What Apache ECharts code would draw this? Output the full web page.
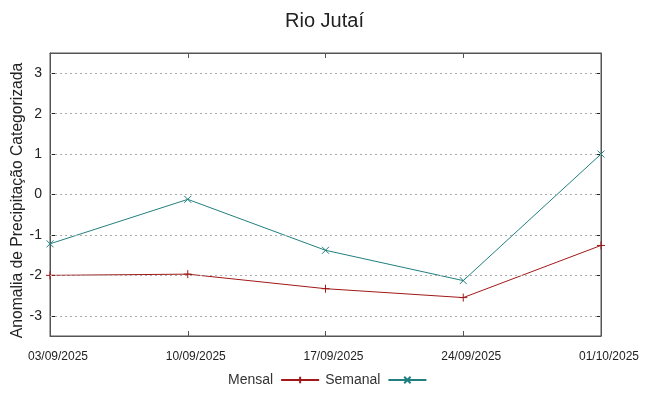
<!DOCTYPE html>
<html><head><meta charset="utf-8">
<script src="https://cdn.jsdelivr.net/npm/echarts@6/dist/echarts.min.js"></script>
<style>html,body{margin:0;padding:0;background:#fff}#c{width:649px;height:396px}</style>
</head><body><div id="c"></div>
<script>
const categories = ['03/09/2025','10/09/2025','17/09/2025','24/09/2025','01/10/2025'];
const mensal = [-2.0, -1.97, -2.33, -2.55, -1.26];
const semanal = [-1.22, -0.12, -1.38, -2.13, 1.0];
const yTicks = [-3,-2,-1,0,1,2,3];

const plus = 'path://M0,-5L0,5M-5,0L5,0';
const cross = 'path://M-4,-4L4,4M-4,4L4,-4';
const cMensal = '#a01818';
const cSemanal = '#217f7f';

const chart = echarts.init(document.getElementById('c'));
chart.setOption({
  animation:false,
  title:{text:'Rio Jutaí',left:'center',top:6,textStyle:{fontFamily:'Liberation Sans',fontSize:20,fontWeight:'normal',color:'#222'}},
  grid:{left:50,right:48,top:53,bottom:60,show:true,borderColor:'#555',borderWidth:1,outerBoundsMode:'none',containLabel:false},
  legend:{bottom:4,left:228,align:'right',itemWidth:38,itemGap:5,itemHeight:8,padding:[5,0,5,0],
    textStyle:{fontFamily:'Liberation Sans',fontSize:14,color:'#333',padding:[0,3,0,0]},
    data:['Mensal','Semanal']},
  xAxis:[{type:'category',data:categories,boundaryGap:false,
    axisLine:{onZero:false,lineStyle:{color:'#555'}},
    axisTick:{inside:true,length:5,lineStyle:{color:'#555'}},
    axisLabel:{fontFamily:'Liberation Sans Narrow, Liberation Sans',fontSize:12,color:'#222',margin:15,padding:[0,0,0,16]},
    splitLine:{show:false}},
   {type:'category',data:categories,boundaryGap:false,position:'top',
    axisLine:{onZero:false,lineStyle:{color:'#555'}},
    axisTick:{inside:true,length:5,lineStyle:{color:'#555'}},
    axisLabel:{show:false},splitLine:{show:false}}],
  yAxis:[{type:'value',min:-3.5,max:3.5,
    name:'Anomalia de Precipitação Categorizada',nameLocation:'middle',nameGap:24,nameRotate:90,
    nameMoveOverlap:false,
    nameTextStyle:{fontFamily:'Liberation Sans',fontSize:15.7,color:'#222',padding:[0,12,0,0]},
    axisLine:{show:true,onZero:false,lineStyle:{color:'#555'}},
    axisTick:{show:true,inside:true,length:5,customValues:yTicks,lineStyle:{color:'#222'}},
    axisLabel:{fontFamily:'Liberation Sans',fontSize:14,color:'#222',margin:8,customValues:yTicks},
    splitLine:{show:false}},
   {type:'value',min:-3.5,max:3.5,position:'right',
    axisLine:{show:true,onZero:false,lineStyle:{color:'#555'}},
    axisTick:{show:true,inside:true,length:5,customValues:yTicks,lineStyle:{color:'#222'}},
    axisLabel:{show:false},splitLine:{show:false}}],
  series:[
    {name:'Mensal',type:'line',data:mensal,symbol:plus,symbolSize:8,
      lineStyle:{color:cMensal,width:1},
      itemStyle:{color:'none',borderColor:cMensal,borderWidth:1},
      markLine:{silent:true,symbol:'none',label:{show:false},
        lineStyle:{color:'#aaa',type:[2,3],width:1},
        data:yTicks.map(v=>({yAxis:v}))},
      z:3},
    {name:'Semanal',type:'line',data:semanal,symbol:cross,symbolSize:7,
      lineStyle:{color:cSemanal,width:1},
      itemStyle:{color:'none',borderColor:cSemanal,borderWidth:1},z:4}
  ]
});
</script></body></html>
